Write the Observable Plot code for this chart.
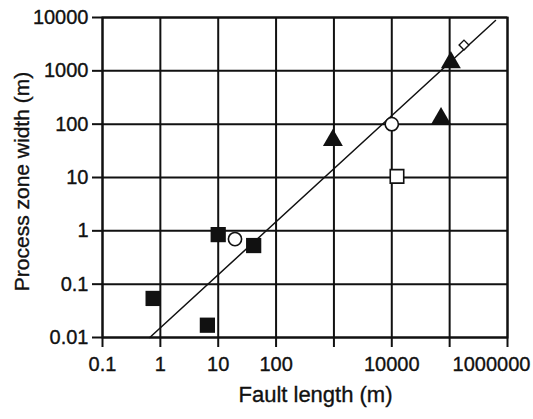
<!DOCTYPE html>
<html>
<head>
<meta charset="utf-8">
<script src="https://cdn.jsdelivr.net/npm/d3@7"></script>
<script src="https://cdn.jsdelivr.net/npm/@observablehq/plot@0.6"></script>
<style>
  body { margin: 0; background: #fff; }
  svg { display: block; }
  svg text { stroke: #111; stroke-width: 0.35px; }
</style>
</head>
<body>
<div id="chart"></div>
<script>
// Axis ticks and their labels (1000 and 100000 carry a tick but no label)
const xTicks = [0.1, 1, 10, 100, 1000, 10000, 100000, 1000000];
const xTickLabels = ["0.1", "1", "10", "100", "", "10000", "", "1000000"];
const yTicks = [0.01, 0.1, 1, 10, 100, 1000, 10000];
const yTickLabels = ["0.01", "0.1", "1", "10", "100", "1000", "10000"];

// Filled squares
const squareLength = [0.75, 6.5, 10, 41];
const squareWidth = [0.054, 0.017, 0.85, 0.53];
// Open circles
const circleLength = [19.5, 10000];
const circleWidth = [0.7, 100];
// Filled triangles
const triangleLength = [960, 71000, 105000];
const triangleWidth = [50, 128, 1430];
// Open square
const openSquareLength = [12300];
const openSquareWidth = [10.5];
// Open diamond
const diamondLength = [177000];
const diamondWidth = [3050];
// Fitted line endpoints
const fitLength = [0.656, 620000];
const fitWidth = [0.01, 8800];

const pts = (xs, ys) => xs.map((x, i) => ({x, y: ys[i]}));
const lastX = xTicks[xTicks.length - 1];
const xLabel = d => xTickLabels[xTicks.indexOf(d)];

const chart = Plot.plot({
  width: 533,
  height: 419,
  marginLeft: 102,
  marginRight: 26,
  marginTop: 17,
  marginBottom: 82,
  style: {fontFamily: "'Liberation Sans', Arial, Helvetica, sans-serif", fontSize: "20px", color: "#111", background: "white"},
  x: {type: "log", domain: [0.1, 1000000]},
  y: {type: "log", domain: [0.01, 10000]},
  marks: [
    Plot.gridX(xTicks, {stroke: "#111", strokeOpacity: 1, strokeWidth: 2}),
    Plot.gridY(yTicks, {stroke: "#111", strokeOpacity: 1, strokeWidth: 2}),
    Plot.frame({stroke: "#111", strokeWidth: 2}),
    // x ticks, labelled except the rightmost one
    Plot.axisX({
      ticks: xTicks,
      tickFormat: d => (d === lastX ? "" : xLabel(d)),
      tickSize: 10, tickPadding: 9, strokeWidth: 2, label: null, fontSize: 20
    }),
    // rightmost x label, pulled inward so it stays on the page
    Plot.axisX({
      ticks: [lastX],
      tickFormat: xLabel,
      tickSize: 0, tickPadding: 19, label: null, fontSize: 20, dx: -16
    }),
    Plot.axisY({
      ticks: yTicks,
      tickFormat: d => yTickLabels[yTicks.indexOf(d)],
      tickSize: 10, tickPadding: 4, strokeWidth: 2, label: null, fontSize: 20
    }),
    Plot.line(pts(fitLength, fitWidth), {x: "x", y: "y", stroke: "#111", strokeWidth: 1.5}),
    Plot.dot(pts(squareLength, squareWidth), {x: "x", y: "y", symbol: "square", r: 8.6, fill: "#111"}),
    Plot.dot(pts(triangleLength, triangleWidth), {x: "x", y: "y", symbol: "triangle", r: 7.4, fill: "#111"}),
    Plot.dot(pts(circleLength, circleWidth), {x: "x", y: "y", symbol: "circle", r: 6.6, fill: "white", stroke: "#111", strokeWidth: 1.6}),
    Plot.dot(pts(openSquareLength, openSquareWidth), {x: "x", y: "y", symbol: "square", r: 7.6, fill: "white", stroke: "#111", strokeWidth: 1.6}),
    Plot.dot(pts(diamondLength, diamondWidth), {x: "x", y: "y", symbol: "diamond2", r: 4.4, fill: "white", stroke: "#111", strokeWidth: 1.4}),
    Plot.text(["Fault length (m)"], {text: d => d, frameAnchor: "bottom", textAnchor: "middle", dx: 10.5, dy: 64, fontSize: 22}),
    Plot.text(["Process zone width (m)"], {text: d => d, frameAnchor: "left", textAnchor: "middle", rotate: -90, dx: -80, dy: 4, fontSize: 21})
  ]
});

document.getElementById("chart").appendChild(chart);
</script>
</body>
</html>
